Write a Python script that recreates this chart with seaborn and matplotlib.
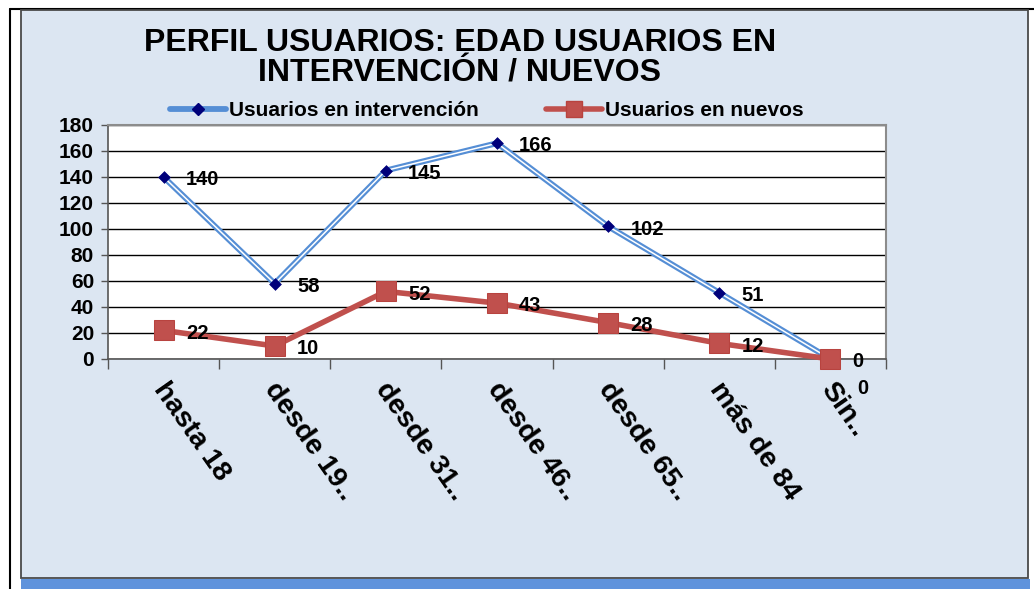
import matplotlib
matplotlib.use("Agg")
import matplotlib.pyplot as plt
import matplotlib.transforms as mtransforms
from matplotlib.lines import Line2D
from matplotlib.patches import Rectangle
import seaborn as sns
import pandas as pd

# data
categories = ["hasta 18", "desde 19..", "desde 31..", "desde 46..", "desde 65..", "más de 84", "Sin.."]
intervencion = [140, 58, 145, 166, 102, 51, 0]
nuevos = [22, 10, 52, 43, 28, 12, 0]
yticks = [0, 20, 40, 60, 80, 100, 120, 140, 160, 180]

df = pd.DataFrame({"cat": categories, "intervencion": intervencion, "nuevos": nuevos})
df["pos"] = range(len(categories))

sns.set_theme(style="white")
plt.rcParams["font.family"] = ["Liberation Sans", "DejaVu Sans"]
plt.rcParams["font.weight"] = "bold"
plt.rcParams["text.color"] = "black"
plt.rcParams["xtick.color"] = "black"
plt.rcParams["ytick.color"] = "black"

fig = plt.figure(figsize=(10.34, 5.89), dpi=100)
fig.patch.set_facecolor("white")

W, H = 1034.0, 589.0

def px(x0, y0, x1, y1):
    # pixel box (top-left origin) -> figure fraction rect
    return (x0 / W, 1 - y1 / H, (x1 - x0) / W, (y1 - y0) / H)

# frame lines, panel and bottom shadow (behind the axes)
fig.add_artist(Line2D([10 / W, 10 / W], [0, 1 - 9 / H], color="black", lw=1.5, zorder=-10))
fig.add_artist(Line2D([10 / W, 1], [1 - 9 / H, 1 - 9 / H], color="black", lw=1.5, zorder=-10))
x, y, w, h = px(21, 579, 1030, 589)
fig.add_artist(Rectangle((x, y), w, h, transform=fig.transFigure, facecolor="#5f93dc",
                         edgecolor="none", zorder=-10))
x, y, w, h = px(21, 10, 1028, 578)
fig.add_artist(Rectangle((x, y), w, h, transform=fig.transFigure, facecolor="#dce6f2",
                         edgecolor="#4a4a4a", lw=1.3, zorder=-9))

ax = fig.add_axes(px(108, 125, 886, 359))
ax.set_facecolor("white")

# blue series: double line look
sns.lineplot(data=df, x="pos", y="intervencion", ax=ax, color="#558ed5", lw=4.2, clip_on=False, zorder=3)
sns.lineplot(data=df, x="pos", y="intervencion", ax=ax, color="white", lw=1.1, clip_on=False, zorder=3)
sns.scatterplot(data=df, x="pos", y="intervencion", ax=ax, marker="D", s=36, color="#00007a",
                edgecolor="#00007a", zorder=3.5, clip_on=False)

# red series
sns.lineplot(data=df, x="pos", y="nuevos", ax=ax, color="#c0504d", lw=4, marker="s",
             markersize=15, markeredgecolor="#b8433f", markerfacecolor="#c0504d", clip_on=False,
             zorder=4)

for i, v in enumerate(intervencion):
    ax.annotate(str(v), (i, v), xytext=(16, -2), textcoords="offset points", ha="left", va="center",
                fontsize=14.5, fontweight="bold", color="black", annotation_clip=False, zorder=6)
for i, v in enumerate(nuevos):
    off = (16, -2) if i < len(nuevos) - 1 else (19, -21)
    ax.annotate(str(v), (i, v), xytext=off, textcoords="offset points", ha="left", va="center",
                fontsize=14.5, fontweight="bold", color="black", annotation_clip=False, zorder=6)

ax.set_xlim(-0.5, len(categories) - 0.5)
ax.set_ylim(0, 180)
ax.set_yticks(yticks)
ax.set_yticklabels([str(t) for t in yticks], fontsize=15, fontweight="bold")
ax.set_xticks([i - 0.5 for i in range(len(categories) + 1)])
ax.set_xticklabels([])
ax.set_xticks(range(len(categories)), minor=True)
ax.set_xticklabels(categories, minor=True, rotation=-55, ha="left", va="top",
                   rotation_mode="anchor", fontsize=20.5, fontweight="bold")
ax.tick_params(axis="x", which="major", direction="out", length=7, width=1, color="#555555", bottom=True)
ax.tick_params(axis="x", which="minor", length=0, pad=13)
ax.tick_params(axis="y", direction="out", length=5, width=1, color="#555555", left=True, pad=5)
# nudge category labels a little to the right
shift = mtransforms.ScaledTranslation(6 / 100, 0, fig.dpi_scale_trans)
for lab in ax.get_xticklabels(minor=True):
    lab.set_transform(lab.get_transform() + shift)
ax.set_xlabel("")
ax.set_ylabel("")
ax.yaxis.grid(True, color="black", lw=1)
ax.xaxis.grid(False)
for side in ["top", "right"]:
    ax.spines[side].set_color("#8c8c8c")
    ax.spines[side].set_linewidth(1.5)
for side in ["left", "bottom"]:
    ax.spines[side].set_color("#555555")
    ax.spines[side].set_linewidth(1.2)
ax.set_axisbelow(True)

fig.text(460 / W, 1 - 58 / H, "PERFIL USUARIOS: EDAD USUARIOS EN\nINTERVENCIÓN / NUEVOS",
         ha="center", va="center", fontsize=23, fontweight="bold", linespacing=1.0)

h_int = Line2D([], [], color="#558ed5", lw=4.2, marker="D", markersize=6,
               markerfacecolor="#00007a", markeredgecolor="#00007a")
h_new = Line2D([], [], color="#c0504d", lw=4, marker="s", markersize=11,
               markerfacecolor="#c0504d", markeredgecolor="#b8433f")
fig.legend([h_int, h_new], ["Usuarios en intervención", "Usuarios en nuevos"],
           loc="center", bbox_to_anchor=(487 / W, 1 - 111 / H), ncol=2, frameon=False,
           handlelength=2.7, handletextpad=0.15, columnspacing=3.2,
           prop={"weight": "bold", "size": 15})

fig.savefig("out.png", dpi=100)
